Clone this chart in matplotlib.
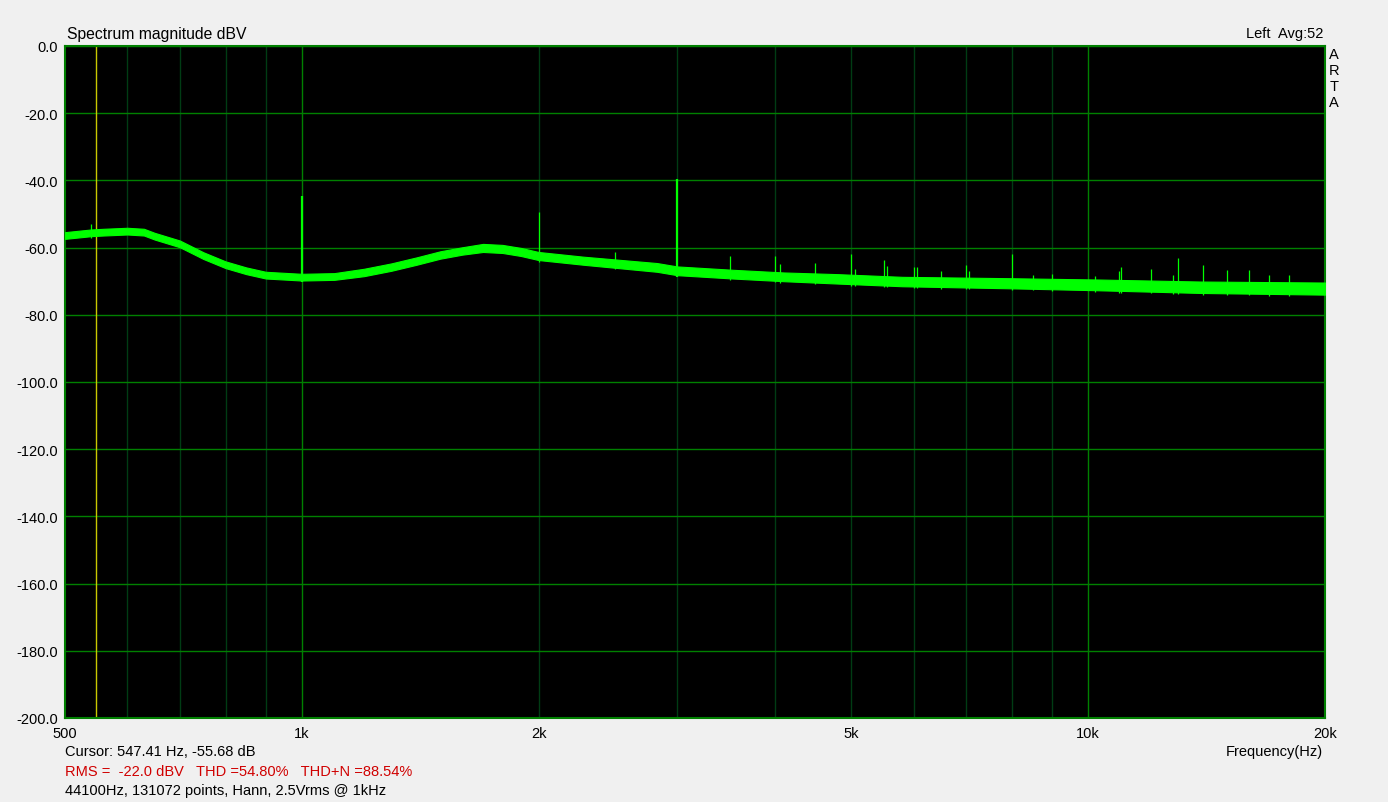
import numpy as np
import matplotlib
matplotlib.use("Agg")
import matplotlib.pyplot as plt

# ---- data ----
floor_freq = [500, 540, 560, 600, 630, 650, 700, 750, 800, 850, 900, 1000, 1100, 1200,
              1300, 1400, 1500, 1600, 1700, 1800, 1900, 2000, 2280, 2830, 3000, 3530,
              4100, 4800, 5800, 7900, 10300, 13900, 20000]
floor_db = [-56.4, -55.6, -55.4, -55.1, -55.4, -56.6, -58.9, -62.4, -65.1, -66.9, -68.2,
            -68.8, -68.6, -67.4, -65.8, -64.0, -62.2, -61.0, -60.1, -60.4, -61.3, -62.5,
            -63.9, -65.9, -66.9, -67.9, -68.7, -69.3, -70.1, -70.6, -71.1, -71.8, -72.2]
floor_halfwidth = [1.0, 1.0, 1.0, 1.0, 1.0, 1.0, 1.0, 1.0, 1.0, 1.0, 1.0, 1.0, 1.0, 1.1,
                   1.1, 1.1, 1.1, 1.1, 1.2, 1.2, 1.2, 1.2, 1.2, 1.3, 1.3, 1.3, 1.3, 1.4,
                   1.4, 1.5, 1.6, 1.7, 1.8]

spike_freq = [539, 1000, 2000, 2500, 3000, 3500, 4000, 4050, 4500, 5000, 5050, 5500, 5550,
              6000, 6050, 6500, 7000, 7050, 8000, 8500, 9000, 10200, 10950, 11000, 12000,
              12800, 13000, 14000, 15000, 16000, 17000, 18000]
spike_peak = [-53.0, -44.6, -49.4, -61.3, -39.6, -62.5, -62.5, -64.9, -64.6, -61.9, -66.4,
              -63.7, -65.5, -65.8, -65.8, -67.1, -65.2, -66.9, -61.9, -68.3, -67.9, -68.5,
              -67.0, -65.7, -66.4, -68.2, -63.1, -65.2, -66.7, -66.7, -68.2, -68.3]

y_ticks = [0, -20, -40, -60, -80, -100, -120, -140, -160, -180, -200]
x_ticks = [500, 1000, 2000, 5000, 10000, 20000]
x_ticklabels = ["500", "1k", "2k", "5k", "10k", "20k"]
minor_grid = [600, 700, 800, 900, 2000, 3000, 4000, 5000, 6000, 7000, 8000, 9000, 20000]
major_grid = [1000, 10000]
cursor_freq = 547.41

W, H = 1388, 803
plt.rcParams['font.family'] = ['Liberation Sans', 'DejaVu Sans']
FS = 10.5
FS_TITLE = 11.3

fig = plt.figure(figsize=(W / 100, H / 100), dpi=100, facecolor='#f0f0f0')
L, R, T, B = 65, 1325, 47, 719
ax = fig.add_axes([L / W, 1 - B / H, (R - L) / W, (B - T) / H])
ax.set_facecolor('black')
ax.set_xscale('log')
ax.set_xlim(500, 20000)
ax.set_ylim(-200, 0)

for f in minor_grid:
    ax.axvline(f, color='#003c14', lw=1.0, zorder=1)
for f in major_grid:
    ax.axvline(f, color='#008000', lw=1.0, zorder=1)
for yv in y_ticks:
    ax.axhline(yv, color='#008000', lw=1.0, zorder=1)
ax.axvline(cursor_freq, color='#c8c800', lw=1.0, zorder=2)

ff = np.array(floor_freq, float)
fd = np.array(floor_db, float)
hw = np.array(floor_halfwidth, float)
ax.fill_between(ff, fd - hw, fd + hw, color='#00ff00', lw=0.8, edgecolor='#00ff00', zorder=3)

lower_at = np.interp(np.log(spike_freq), np.log(ff), fd - hw)
for f, p, lo in zip(spike_freq, spike_peak, lower_at):
    lw = 1.6 if f in (1000, 3000) else 0.9
    ax.plot([f, f], [lo - 0.5, p], color='#00ff00', lw=lw, zorder=4, solid_capstyle='butt')

ax.set_yticks(y_ticks)
ax.set_yticklabels([f"{v:.1f}" for v in y_ticks], fontsize=FS)
ax.set_xticks(x_ticks)
ax.set_xticklabels(x_ticklabels, fontsize=FS)
ax.minorticks_off()
ax.xaxis.set_minor_locator(matplotlib.ticker.NullLocator())
ax.tick_params(length=0, pad=5)
ax.tick_params(axis='x', pad=6)
for s in ax.spines.values():
    s.set_color('#008000')
    s.set_linewidth(1.5)


def txt(x, y, s, **kw):
    kw.setdefault('fontsize', FS)
    fig.text(x / W, 1 - y / H, s, **kw)


txt(67, 34, "Spectrum magnitude dBV", va='center', ha='left', fontsize=FS_TITLE)
txt(1323, 34, "Left  Avg:52", va='center', ha='right')
for i, ch in enumerate("ARTA"):
    txt(1334, 55 + 16 * i, ch, va='center', ha='center')
txt(1323, 752, "Frequency(Hz)", va='center', ha='right')
txt(65, 752, "Cursor: 547.41 Hz, -55.68 dB", va='center', ha='left')
txt(65, 772, "RMS =  -22.0 dBV   THD =54.80%   THD+N =88.54%", va='center', ha='left', color='#d00000')
txt(65, 791, "44100Hz, 131072 points, Hann, 2.5Vrms @ 1kHz", va='center', ha='left')

fig.savefig("out.png", dpi=100, facecolor=fig.get_facecolor())
